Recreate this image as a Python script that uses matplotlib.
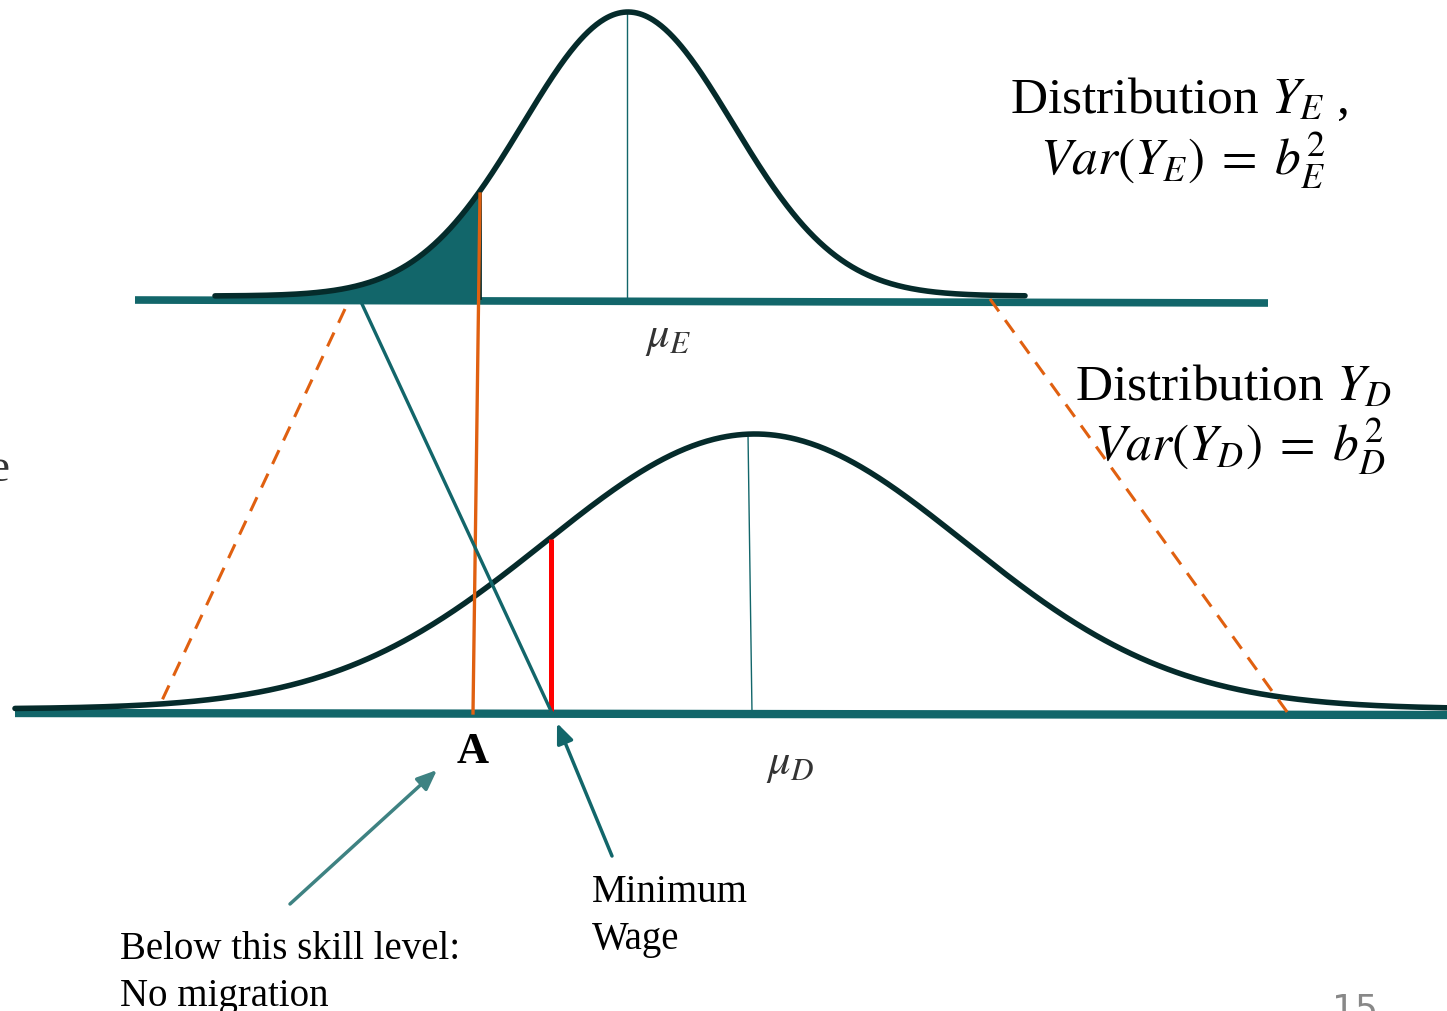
import numpy as np
import matplotlib.pyplot as plt

plt.rcParams['font.family'] = ['Liberation Serif', 'DejaVu Serif']
plt.rcParams['mathtext.fontset'] = 'stix'

# skill distributions (drawn in slide pixel units)
# origin country E (top) and destination D (bottom)
mu_E, sd_E, peak_E, base_E = 628, 105, 284, 297
mu_D, sd_D, peak_D, base_D = 755, 210, 275, 710
span_E = [215, 1025]
span_D = [15, 1447]

# thresholds
skill_A = 476        # below this: no migration
min_wage = 551       # minimum wage in D

# axis lines (x0, x1, y0, y1)
axis_E = [135, 1268, 301, 304]
axis_D = [15, 1447, 714, 716]

teal = '#12666a'
dark = '#052b2b'
orange = '#e06010'


def gauss(x, mu, sd, peak, base):
    return base - peak * np.exp(-(x - mu) ** 2 / (2 * sd ** 2))


fig = plt.figure(figsize=(14.47, 10.12), dpi=100)
ax = fig.add_axes([0, 0, 1, 1])
ax.set_xlim(0, 1447)
ax.set_ylim(1012, 0)
ax.axis('off')

# base lines
ax.plot(axis_E[:2], axis_E[2:], color=teal, lw=5.5, solid_capstyle='butt', zorder=2)
ax.plot(axis_D[:2], axis_D[2:], color=teal, lw=6, solid_capstyle='butt', zorder=2)

# top distribution with shaded left tail
xE = np.linspace(span_E[0], span_E[1], 600)
yE = gauss(xE, mu_E, sd_E, peak_E, base_E)
xs = np.linspace(span_E[0], skill_A + 4, 300)
ax.fill_between(xs, gauss(xs, mu_E, sd_E, peak_E, base_E), base_E + 2,
                color=teal, lw=0, zorder=3)
ax.plot([skill_A + 4, skill_A + 4], [gauss(skill_A + 4, mu_E, sd_E, peak_E, base_E), base_E + 2],
        color=dark, lw=2, zorder=4)
ax.plot(xE, yE, color=dark, lw=4, zorder=4, solid_capstyle='round')

# bottom distribution
xD = np.linspace(span_D[0], span_D[1], 800)
yD = gauss(xD, mu_D, sd_D, peak_D, base_D)
ax.plot(xD, yD, color=dark, lw=4, zorder=4, solid_capstyle='round')

# mean lines
ax.plot([mu_E - 1, mu_E - 1], [gauss(mu_E, mu_E, sd_E, peak_E, base_E), axis_E[2]],
        color=teal, lw=1, zorder=3)
ax.plot([mu_D - 7, mu_D - 3], [gauss(mu_D, mu_D, sd_D, peak_D, base_D), axis_D[2]],
        color=teal, lw=1, zorder=3)

# threshold A: orange line
ax.plot([skill_A + 4, skill_A - 3], [195, 714], color=orange, lw=2.4, zorder=5)

# minimum wage: red line
ax.plot([min_wage, min_wage], [gauss(min_wage, mu_D, sd_D, peak_D, base_D) + 2, 712],
        color='#ff0000', lw=3.6, zorder=5, solid_capstyle='butt')

# teal diagonal mapping
ax.plot([362, min_wage], [305, 712], color=teal, lw=2.4, zorder=5)

# dashed orange projections
ax.plot([345, 158], [310, 710], color=orange, lw=2.2, ls=(0, (5, 3.5)), zorder=5)
ax.plot([990, 1290], [300, 717], color=orange, lw=2.2, ls=(0, (5, 3.5)), zorder=5)

# arrows
ax.annotate('', xy=(437, 771), xytext=(290, 905),
            arrowprops=dict(arrowstyle='-|>,head_length=1.2,head_width=0.5',
                            color='#3e8282', lw=2.5, shrinkA=0, shrinkB=0))
ax.annotate('', xy=(557, 724), xytext=(612, 857),
            arrowprops=dict(arrowstyle='-|>,head_length=1.2,head_width=0.5',
                            color=teal, lw=2.5, shrinkA=0, shrinkB=0))

# labels
ax.text(1010, 100, r'Distribution $Y_E$ ,', fontsize=37, va='center', ha='left')
ax.text(1040, 160, r'$Var(Y_E)\;=\;b_E^2$', fontsize=37, va='center', ha='left')
ax.text(1075, 388, r'Distribution $Y_D$', fontsize=37, va='center', ha='left')
ax.text(1094, 446, r'$Var(Y_D)\;=\;b_D^2$', fontsize=37, va='center', ha='left')
ax.text(668, 338, r'$\mu_E$', fontsize=32, va='center', ha='center', color='#333333')
ax.text(790, 765, r'$\mu_D$', fontsize=32, va='center', ha='center', color='#333333')
ax.text(473, 752, 'A', fontsize=32, fontweight='bold', va='center', ha='center')
ax.text(592, 916, 'Minimum\nWage', fontsize=28, va='center', ha='left', linespacing=1.35)
ax.text(120, 973, 'Below this skill level:\nNo migration', fontsize=28, va='center', ha='left',
        linespacing=1.35)
ax.text(-12, 470, 'e', fontsize=34, va='center', ha='left', color='#333333')
ax.text(1355, 1010, '15', fontsize=26, va='center', ha='center', color='#888888',
        family='DejaVu Sans')

plt.savefig('out.png', dpi=100)
